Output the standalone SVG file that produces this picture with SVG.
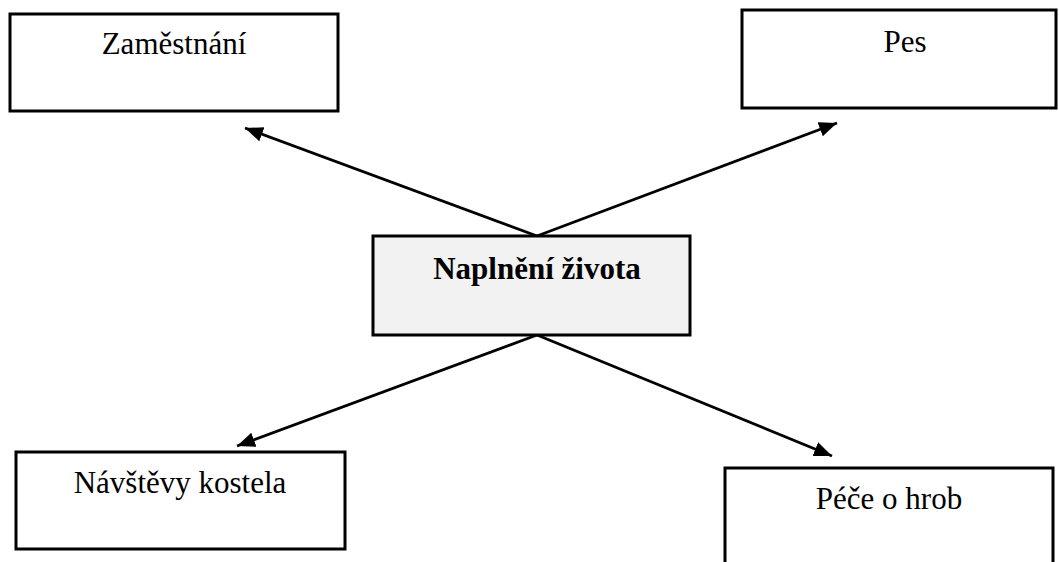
<svg xmlns="http://www.w3.org/2000/svg" width="1059" height="562" viewBox="0 0 1059 562">
  <style>
    .box { fill: #ffffff; stroke: #000000; stroke-width: 3; }
    .hub { fill: #f2f2f2; stroke: #000000; stroke-width: 3; }
    .label { font-family: "Liberation Serif", "Times New Roman", serif; font-size: 31px; fill: #000000; text-anchor: middle; }
    .bold { font-weight: bold; }
    .edge { stroke: #000000; stroke-width: 2.8; fill: none; marker-end: url(#arrow); }
  </style>
  <defs>
    <marker id="arrow" markerUnits="userSpaceOnUse" markerWidth="20" markerHeight="16" refX="18" refY="7.5" orient="auto">
      <path d="M0,0 L18,7.5 L0,15 Z" fill="#000000"/>
    </marker>
  </defs>
  <rect width="1059" height="562" fill="#ffffff"/>

  <g id="connectors">
    <line class="edge" x1="537" y1="236" x2="245" y2="128"/>
    <line class="edge" x1="537" y1="236" x2="837" y2="123"/>
    <line class="edge" x1="537" y1="335" x2="237" y2="446"/>
    <line class="edge" x1="537" y1="335" x2="832" y2="456"/>
  </g>

  <g id="zamestnani">
    <rect class="box" x="10" y="14" width="328" height="97"/>
    <text class="label" x="174" y="54">Zaměstnání</text>
  </g>

  <g id="pes">
    <rect class="box" x="742" y="10" width="314" height="98"/>
    <text class="label" x="905" y="52">Pes</text>
  </g>

  <g id="naplneni-zivota">
    <rect class="hub" x="373" y="236" width="317" height="99"/>
    <text class="label bold" x="537" y="279">Naplnění života</text>
  </g>

  <g id="navstevy-kostela">
    <rect class="box" x="16" y="452" width="329" height="97"/>
    <text class="label" x="180" y="493">Návštěvy kostela</text>
  </g>

  <g id="pece-o-hrob">
    <rect class="box" x="725" y="468" width="328" height="110"/>
    <text class="label" x="889" y="509">Péče o hrob</text>
  </g>
</svg>
